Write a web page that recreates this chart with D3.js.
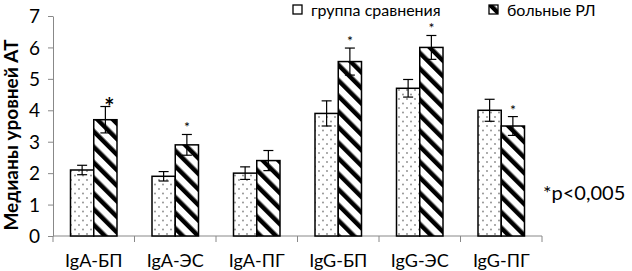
<!DOCTYPE html>
<html>
<head>
<meta charset="utf-8">
<script src="https://cdn.jsdelivr.net/npm/d3@7"></script>
<style>
  body { margin: 0; background: #fff; }
  text { font-family: Lato, "Open Sans", sans-serif; }
</style>
</head>
<body>
<svg id="chart"></svg>
<script>
const categories = ['IgA-БП', 'IgA-ЭС', 'IgA-ПГ', 'IgG-БП', 'IgG-ЭС', 'IgG-ПГ'];
const seriesNames = ['группа сравнения', 'больные РЛ'];
const controlValues = [2.1, 1.9, 2.0, 3.9, 4.7, 4.0];
const controlErrors = [0.15, 0.15, 0.2, 0.4, 0.28, 0.35];
const patientValues = [3.7, 2.9, 2.4, 5.55, 6.0, 3.5];
const patientErrors = [0.42, 0.33, 0.32, 0.43, 0.38, 0.3];
const patientStars = [true, true, false, true, true, true];
const yTicks = [0, 1, 2, 3, 4, 5, 6, 7];

const width = 632, height = 271;
const margin = {top: 16, right: 90, bottom: 35, left: 53};
const innerW = width - margin.left - margin.right;
const innerH = height - margin.top - margin.bottom;

const svg = d3.select('#chart').attr('width', width).attr('height', height);

const defs = svg.append('defs');
const dots = defs.append('pattern')
    .attr('id', 'dots')
    .attr('patternUnits', 'userSpaceOnUse')
    .attr('width', 8).attr('height', 9);
dots.append('rect').attr('width', 8).attr('height', 9).attr('fill', '#fff');
dots.append('circle').attr('cx', 2).attr('cy', 2).attr('r', 0.9).attr('fill', '#888');
dots.append('circle').attr('cx', 6).attr('cy', 6.5).attr('r', 0.9).attr('fill', '#888');

const stripes = defs.append('pattern')
    .attr('id', 'stripes')
    .attr('patternUnits', 'userSpaceOnUse')
    .attr('width', 11).attr('height', 11)
    .attr('patternTransform', 'rotate(-45)');
stripes.append('rect').attr('width', 11).attr('height', 11).attr('fill', '#fff');
stripes.append('rect').attr('x', 0).attr('width', 4.5).attr('height', 11).attr('fill', '#000');

const chart = svg.append('g')
    .attr('transform', `translate(${margin.left}, ${margin.top})`);

const xscale = d3.scaleBand()
    .domain(categories)
    .range([0, innerW])
    .paddingInner(0)
    .paddingOuter(0);

const inner = d3.scaleBand()
    .domain([0, 1])
    .range([17.5, xscale.bandwidth() - 17.5]);

const yscale = d3.scaleLinear()
    .domain([0, 7])
    .range([innerH, 0]);

// y axis
const yaxis = d3.axisLeft(yscale).tickValues(yTicks).tickFormat(d3.format('d')).tickSize(5).tickSizeOuter(0);
const yg = chart.append('g').call(yaxis);
yg.select('.domain').attr('stroke', '#888');
yg.selectAll('.tick line').attr('stroke', '#888');
yg.selectAll('.tick text').attr('font-size', 19).attr('fill', '#000').attr('x', -13).attr('dy', '0.35em');

// x axis
const xg = chart.append('g').attr('transform', `translate(0, ${innerH})`);
xg.append('line').attr('x1', 0).attr('x2', innerW).attr('stroke', '#888');
xg.selectAll('line.tk')
    .data(d3.range(categories.length + 1))
    .join('line')
    .attr('class', 'tk')
    .attr('x1', i => i * xscale.step()).attr('x2', i => i * xscale.step())
    .attr('y1', 0).attr('y2', 6).attr('stroke', '#888');
xg.selectAll('text')
    .data(categories)
    .join('text')
    .attr('x', d => xscale(d) + xscale.bandwidth() / 2)
    .attr('y', 31)
    .attr('text-anchor', 'middle')
    .attr('font-size', 18)
    .text(d => d);

const series = [
    {vals: controlValues, errs: controlErrors, fill: 'url(#dots)'},
    {vals: patientValues, errs: patientErrors, fill: 'url(#stripes)'}
];

series.forEach((s, si) => {
    const g = chart.append('g');
    g.selectAll('rect')
        .data(categories)
        .join('rect')
        .attr('x', d => xscale(d) + inner(si))
        .attr('y', (d, i) => yscale(s.vals[i]))
        .attr('width', inner.bandwidth())
        .attr('height', (d, i) => innerH - yscale(s.vals[i]))
        .attr('fill', s.fill)
        .attr('stroke', '#000')
        .attr('stroke-width', 1.5);

    const eb = g.selectAll('g.err')
        .data(categories)
        .join('g')
        .attr('class', 'err')
        .attr('transform', d => `translate(${xscale(d) + inner(si) + inner.bandwidth() / 2}, 0)`);
    eb.append('line')
        .attr('y1', (d, i) => yscale(s.vals[i] + s.errs[i]))
        .attr('y2', (d, i) => yscale(s.vals[i] - s.errs[i]))
        .attr('stroke', '#000').attr('stroke-width', 1.2);
    eb.append('line')
        .attr('x1', -5).attr('x2', 5)
        .attr('y1', (d, i) => yscale(s.vals[i] + s.errs[i]))
        .attr('y2', (d, i) => yscale(s.vals[i] + s.errs[i]))
        .attr('stroke', '#000').attr('stroke-width', 1.2);
    eb.append('line')
        .attr('x1', -5).attr('x2', 5)
        .attr('y1', (d, i) => yscale(s.vals[i] - s.errs[i]))
        .attr('y2', (d, i) => yscale(s.vals[i] - s.errs[i]))
        .attr('stroke', '#000').attr('stroke-width', 1.2);
});

// significance stars
chart.selectAll('text.star')
    .data(categories.filter((d, i) => patientStars[i]))
    .join('text')
    .attr('class', 'star')
    .attr('x', d => {
        const i = categories.indexOf(d);
        return xscale(d) + inner(1) + inner.bandwidth() / 2 + (i === 0 ? 4 : 0);
    })
    .attr('y', d => {
        const i = categories.indexOf(d);
        return yscale(patientValues[i] + patientErrors[i]) - (i === 0 ? -9 : 2);
    })
    .attr('text-anchor', 'middle')
    .attr('font-size', d => categories.indexOf(d) === 0 ? 24 : 14)
    .attr('font-weight', d => categories.indexOf(d) === 0 ? 'bold' : 'normal')
    .text('*');

// y label
svg.append('text')
    .attr('transform', 'rotate(-90)')
    .attr('x', -135)
    .attr('y', 18)
    .attr('text-anchor', 'middle')
    .attr('font-size', 19)
    .attr('font-weight', 'bold')
    .text('Медианы уровней АТ');

// legend
const legendX = [293, 489];
const legend = svg.append('g');
seriesNames.forEach((name, i) => {
    legend.append('rect')
        .attr('x', legendX[i]).attr('y', 5)
        .attr('width', 9).attr('height', 9)
        .attr('fill', i === 0 ? '#fff' : 'url(#stripes)')
        .attr('stroke', '#000').attr('stroke-width', 1.3);
    legend.append('text')
        .attr('x', legendX[i] + 18).attr('y', 16.3)
        .attr('font-size', 16)
        .text(name);
});

svg.append('text')
    .attr('x', 543).attr('y', 200)
    .attr('font-size', 20)
    .text('*p<0,005');
</script>
</body>
</html>
